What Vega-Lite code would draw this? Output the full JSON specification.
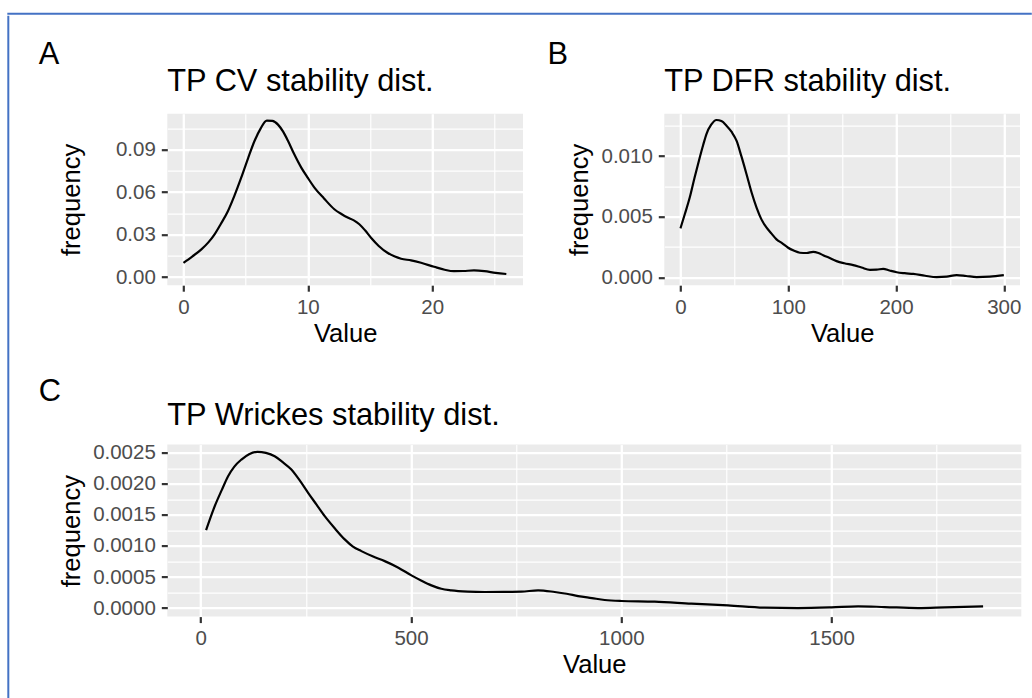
{
  "$schema": "https://vega.github.io/schema/vega-lite/v6.json",
  "background": "white",
  "padding": {"left": 7.3, "top": 12.7, "right": 0, "bottom": 0},
  "config": {
    "font": "Liberation Sans",
    "view": {"stroke": null},
    "axis": {
      "domain": false,
      "labelFontSize": 20.5,
      "labelColor": "#4D4D4D",
      "labelPadding": 6,
      "tickSize": 6,
      "tickWidth": 2.2,
      "tickColor": "#333333",
      "titleFontSize": 25.6,
      "titleFontWeight": "normal",
      "titleColor": "black",
      "gridColor": "white",
      "gridOpacity": 1,
      "labelFlush": false,
      "labelOverlap": false
    },
    "title": {"fontSize": 30.8, "fontWeight": "normal", "color": "black", "anchor": "start"}
  },
  "datasets": {
    "cv": [
      {"Value": 0, "frequency": 0.0101},
      {"Value": 0.7, "frequency": 0.0145},
      {"Value": 1.44, "frequency": 0.0196},
      {"Value": 2.0, "frequency": 0.0245},
      {"Value": 2.5, "frequency": 0.0302},
      {"Value": 3.0, "frequency": 0.0375},
      {"Value": 3.58, "frequency": 0.0467},
      {"Value": 4.1, "frequency": 0.0575},
      {"Value": 4.65, "frequency": 0.0703},
      {"Value": 5.2, "frequency": 0.084},
      {"Value": 5.72, "frequency": 0.0962},
      {"Value": 6.2, "frequency": 0.1048},
      {"Value": 6.7, "frequency": 0.1104},
      {"Value": 7.15, "frequency": 0.1102},
      {"Value": 7.6, "frequency": 0.1076},
      {"Value": 8.0, "frequency": 0.1028},
      {"Value": 8.4, "frequency": 0.0962},
      {"Value": 8.9, "frequency": 0.0868},
      {"Value": 9.46, "frequency": 0.0774},
      {"Value": 10.0, "frequency": 0.07},
      {"Value": 10.53, "frequency": 0.0632},
      {"Value": 11.3, "frequency": 0.0555},
      {"Value": 12.13, "frequency": 0.0479},
      {"Value": 12.7, "frequency": 0.0445},
      {"Value": 13.2, "frequency": 0.042},
      {"Value": 13.7, "frequency": 0.04},
      {"Value": 14.14, "frequency": 0.0373},
      {"Value": 14.6, "frequency": 0.033},
      {"Value": 15.08, "frequency": 0.0278},
      {"Value": 15.7, "frequency": 0.022},
      {"Value": 16.4, "frequency": 0.0172},
      {"Value": 17.0, "frequency": 0.0145},
      {"Value": 17.5, "frequency": 0.013},
      {"Value": 18.3, "frequency": 0.0118},
      {"Value": 19.1, "frequency": 0.0101},
      {"Value": 20.15, "frequency": 0.0073},
      {"Value": 21.0, "frequency": 0.0052},
      {"Value": 21.75, "frequency": 0.0042},
      {"Value": 22.5, "frequency": 0.0043},
      {"Value": 23.36, "frequency": 0.0047},
      {"Value": 24.2, "frequency": 0.0042},
      {"Value": 25.1, "frequency": 0.003},
      {"Value": 25.96, "frequency": 0.0022}
    ],
    "dfr": [
      {"Value": 0, "frequency": 0.00404},
      {"Value": 4, "frequency": 0.0052},
      {"Value": 8.6, "frequency": 0.00658},
      {"Value": 13, "frequency": 0.0082},
      {"Value": 17.9, "frequency": 0.00989},
      {"Value": 21, "frequency": 0.0109},
      {"Value": 24.1, "frequency": 0.01183},
      {"Value": 28.5, "frequency": 0.0126},
      {"Value": 33.4, "frequency": 0.01299},
      {"Value": 38, "frequency": 0.0129},
      {"Value": 42.7, "frequency": 0.01252},
      {"Value": 47.5, "frequency": 0.012},
      {"Value": 52, "frequency": 0.01128},
      {"Value": 56.5, "frequency": 0.01},
      {"Value": 61.3, "frequency": 0.00851},
      {"Value": 66, "frequency": 0.007},
      {"Value": 70.6, "frequency": 0.00575},
      {"Value": 75, "frequency": 0.0048},
      {"Value": 79.9, "frequency": 0.00409},
      {"Value": 84.5, "frequency": 0.0036},
      {"Value": 89.1, "frequency": 0.00313},
      {"Value": 94.5, "frequency": 0.0028},
      {"Value": 99.9, "frequency": 0.00243},
      {"Value": 105, "frequency": 0.0022},
      {"Value": 110.8, "frequency": 0.00202},
      {"Value": 117, "frequency": 0.002},
      {"Value": 123.1, "frequency": 0.0021},
      {"Value": 128, "frequency": 0.002},
      {"Value": 132.4, "frequency": 0.00182},
      {"Value": 138, "frequency": 0.0016},
      {"Value": 144.8, "frequency": 0.00133},
      {"Value": 152, "frequency": 0.00115},
      {"Value": 160.3, "frequency": 0.001},
      {"Value": 168, "frequency": 0.0008},
      {"Value": 175.8, "frequency": 0.00061},
      {"Value": 182, "frequency": 0.00062},
      {"Value": 188.1, "frequency": 0.00069},
      {"Value": 194, "frequency": 0.00055},
      {"Value": 200.6, "frequency": 0.00041},
      {"Value": 208, "frequency": 0.00033},
      {"Value": 216, "frequency": 0.00027},
      {"Value": 227, "frequency": 0.00012},
      {"Value": 237.7, "frequency": 0.00001},
      {"Value": 247, "frequency": 0.00005},
      {"Value": 256.3, "frequency": 0.00017},
      {"Value": 265, "frequency": 0.0001},
      {"Value": 274.8, "frequency": 0.00001},
      {"Value": 287, "frequency": 0.00005},
      {"Value": 300, "frequency": 0.00017}
    ],
    "wrickes": [
      {"Value": 12.8, "frequency": 0.001255},
      {"Value": 33.3, "frequency": 0.00164},
      {"Value": 50, "frequency": 0.0019},
      {"Value": 65.1, "frequency": 0.002124},
      {"Value": 80, "frequency": 0.00228},
      {"Value": 96.8, "frequency": 0.002393},
      {"Value": 115, "frequency": 0.00248},
      {"Value": 134.8, "frequency": 0.002517},
      {"Value": 155, "frequency": 0.0025},
      {"Value": 175.9, "frequency": 0.002446},
      {"Value": 195, "frequency": 0.00235},
      {"Value": 215.6, "frequency": 0.002232},
      {"Value": 235, "frequency": 0.00206},
      {"Value": 255.4, "frequency": 0.001857},
      {"Value": 275, "frequency": 0.00167},
      {"Value": 294.9, "frequency": 0.00148},
      {"Value": 318, "frequency": 0.00129},
      {"Value": 342.4, "frequency": 0.001106},
      {"Value": 362, "frequency": 0.00099},
      {"Value": 382, "frequency": 0.000917},
      {"Value": 410, "frequency": 0.00083},
      {"Value": 437.5, "frequency": 0.000756},
      {"Value": 470, "frequency": 0.00065},
      {"Value": 501, "frequency": 0.000526},
      {"Value": 525, "frequency": 0.00044},
      {"Value": 548.5, "frequency": 0.000365},
      {"Value": 572, "frequency": 0.00031},
      {"Value": 596, "frequency": 0.000285},
      {"Value": 635, "frequency": 0.000265},
      {"Value": 675.2, "frequency": 0.000258},
      {"Value": 720, "frequency": 0.00026},
      {"Value": 762.5, "frequency": 0.000264},
      {"Value": 802.2, "frequency": 0.000285},
      {"Value": 841.6, "frequency": 0.000258},
      {"Value": 870, "frequency": 0.00023},
      {"Value": 897.3, "frequency": 0.000193},
      {"Value": 930, "frequency": 0.00016},
      {"Value": 960.5, "frequency": 0.000129},
      {"Value": 1000.2, "frequency": 0.000113},
      {"Value": 1079.4, "frequency": 0.000103},
      {"Value": 1166.6, "frequency": 0.000071},
      {"Value": 1253.9, "frequency": 0.000043},
      {"Value": 1340.9, "frequency": 0.000006},
      {"Value": 1420.3, "frequency": 0.0},
      {"Value": 1499.5, "frequency": 0.000011},
      {"Value": 1563, "frequency": 0.000027},
      {"Value": 1626.4, "frequency": 0.000016},
      {"Value": 1705.7, "frequency": 0.0},
      {"Value": 1769, "frequency": 0.000011},
      {"Value": 1860.2, "frequency": 0.000027}
    ]
  },
  "spacing": 0,
  "vconcat": [
    {
      "data": {"values": []},
      "mark": "point",
      "width": 1022.5,
      "height": 0.001,
      "view": {"stroke": "#4472C4", "strokeWidth": 2}
    },
    {
      "spacing": 28,
      "hconcat": [
        {
          "data": {"values": []},
          "mark": "point",
          "width": 0.001,
          "height": 681,
          "view": {"stroke": "#4472C4", "strokeWidth": 2}
        },
        {
          "spacing": 21,
          "vconcat": [
            {"data": {"values": []}, "mark": "point", "width": 1, "height": 1},
            {
              "spacing": 27.9,
              "vconcat": [
                {
                  "spacing": 24,
                  "hconcat": [
                    {
                      "title": {"text": "A", "anchor": "start", "frame": "bounds", "dx": -20.5, "baseline": "alphabetic", "offset": -28.6, "fontSize": 30.8},
                      "vconcat": [
                        {
                          "data": {"name": "cv"},
                          "width": 355.7,
                          "height": 171.5,
                          "view": {"fill": "#EBEBEB", "stroke": null},
                          "title": {"text": "TP CV stability dist.", "frame": "group", "anchor": "start", "baseline": "alphabetic", "offset": -8.5},
                          "mark": {"type": "line", "color": "black", "strokeWidth": 2.2, "interpolate": "monotone"},
                          "encoding": {
                            "x": {
                              "field": "Value", "type": "quantitative",
                              "scale": {"domain": [-1.3, 27.3], "nice": false, "zero": false},
                              "axis": {
                                "values": [0, 5, 10, 15, 20, 25],
                                "format": "d",
                                "labelExpr": "indexof([0,10,20], datum.value) >= 0 ? datum.label : ''",
                                "gridWidth": {"condition": {"test": "indexof([0,10,20], datum.value) >= 0", "value": 2.3}, "value": 1.15},
                                "tickOpacity": {"condition": {"test": "indexof([0,10,20], datum.value) >= 0", "value": 1}, "value": 0},
                                "title": "Value",
                                "titleY": 56.4,
                                "titleBaseline": "alphabetic"
                              }
                            },
                            "y": {
                              "field": "frequency", "type": "quantitative",
                              "scale": {"domain": [-0.0057, 0.1153], "nice": false, "zero": false},
                              "axis": {
                                "values": [0, 0.015, 0.03, 0.045, 0.06, 0.075, 0.09, 0.105],
                                "format": ".2f",
                                "labelExpr": "indexof([0,0.03,0.06,0.09], datum.value) >= 0 ? datum.label : ''",
                                "gridWidth": {"condition": {"test": "indexof([0,0.03,0.06,0.09], datum.value) >= 0", "value": 2.3}, "value": 1.15},
                                "tickOpacity": {"condition": {"test": "indexof([0,0.03,0.06,0.09], datum.value) >= 0", "value": 1}, "value": 0},
                                "title": "frequency",
                                "titleX": -88.1,
                                "titleY": 85.75,
                                "titleBaseline": "alphabetic",
                                "titleAlign": "center"
                              }
                            }
                          }
                        }
                      ]
                    },
                    {
                      "title": {"text": "B", "anchor": "start", "frame": "bounds", "dx": -20.5, "baseline": "alphabetic", "offset": -28.6, "fontSize": 30.8},
                      "vconcat": [
                        {
                          "data": {"name": "dfr"},
                          "width": 355.7,
                          "height": 171.5,
                          "view": {"fill": "#EBEBEB", "stroke": null},
                          "title": {"text": "TP DFR stability dist.", "frame": "group", "anchor": "start", "baseline": "alphabetic", "offset": -8.5},
                          "mark": {"type": "line", "color": "black", "strokeWidth": 2.2, "interpolate": "monotone"},
                          "encoding": {
                            "x": {
                              "field": "Value", "type": "quantitative",
                              "scale": {"domain": [-15, 315], "nice": false, "zero": false},
                              "axis": {
                                "values": [0, 50, 100, 150, 200, 250, 300],
                                "format": "d",
                                "labelExpr": "indexof([0,100,200,300], datum.value) >= 0 ? datum.label : ''",
                                "gridWidth": {"condition": {"test": "indexof([0,100,200,300], datum.value) >= 0", "value": 2.3}, "value": 1.15},
                                "tickOpacity": {"condition": {"test": "indexof([0,100,200,300], datum.value) >= 0", "value": 1}, "value": 0},
                                "title": "Value",
                                "titleY": 56.4,
                                "titleBaseline": "alphabetic"
                              }
                            },
                            "y": {
                              "field": "frequency", "type": "quantitative",
                              "scale": {"domain": [-0.00066, 0.01351], "nice": false, "zero": false},
                              "axis": {
                                "values": [0, 0.0025, 0.005, 0.0075, 0.01, 0.0125],
                                "format": ".3f",
                                "labelExpr": "indexof([0,0.005,0.01], datum.value) >= 0 ? datum.label : ''",
                                "gridWidth": {"condition": {"test": "indexof([0,0.005,0.01], datum.value) >= 0", "value": 2.3}, "value": 1.15},
                                "tickOpacity": {"condition": {"test": "indexof([0,0.005,0.01], datum.value) >= 0", "value": 1}, "value": 0},
                                "title": "frequency",
                                "titleX": -76.4,
                                "titleY": 85.75,
                                "titleBaseline": "alphabetic",
                                "titleAlign": "center"
                              }
                            }
                          }
                        }
                      ]
                    }
                  ]
                },
                {
                  "title": {"text": "C", "anchor": "start", "frame": "bounds", "dx": -20.5, "baseline": "alphabetic", "offset": -32.6, "fontSize": 30.8},
                  "vconcat": [
                    {
                      "data": {"name": "wrickes"},
                      "width": 854,
                      "height": 172,
                      "view": {"fill": "#EBEBEB", "stroke": null},
                      "title": {"text": "TP Wrickes stability dist.", "frame": "group", "anchor": "start", "baseline": "alphabetic", "offset": -12.5},
                      "mark": {"type": "line", "color": "black", "strokeWidth": 2.2, "interpolate": "monotone"},
                      "encoding": {
                        "x": {
                          "field": "Value", "type": "quantitative",
                          "scale": {"domain": [-79.4, 1951], "nice": false, "zero": false},
                          "axis": {
                            "values": [0, 250, 500, 750, 1000, 1250, 1500, 1750],
                            "format": "d",
                            "labelExpr": "indexof([0,500,1000,1500], datum.value) >= 0 ? datum.label : ''",
                            "gridWidth": {"condition": {"test": "indexof([0,500,1000,1500], datum.value) >= 0", "value": 2.3}, "value": 1.15},
                            "tickOpacity": {"condition": {"test": "indexof([0,500,1000,1500], datum.value) >= 0", "value": 1}, "value": 0},
                            "title": "Value",
                            "titleY": 56,
                            "titleBaseline": "alphabetic"
                          }
                        },
                        "y": {
                          "field": "frequency", "type": "quantitative",
                          "scale": {"domain": [-0.000138, 0.002634], "nice": false, "zero": false},
                          "axis": {
                            "values": [0, 0.00025, 0.0005, 0.00075, 0.001, 0.00125, 0.0015, 0.00175, 0.002, 0.00225, 0.0025],
                            "format": ".4f",
                            "labelExpr": "indexof([0,0.0005,0.001,0.0015,0.002,0.0025], datum.value) >= 0 ? datum.label : ''",
                            "gridWidth": {"condition": {"test": "indexof([0,0.0005,0.001,0.0015,0.002,0.0025], datum.value) >= 0", "value": 2.3}, "value": 1.15},
                            "tickOpacity": {"condition": {"test": "indexof([0,0.0005,0.001,0.0015,0.002,0.0025], datum.value) >= 0", "value": 1}, "value": 0},
                            "title": "frequency",
                            "titleX": -88.1,
                            "titleY": 86,
                            "titleBaseline": "alphabetic",
                            "titleAlign": "center"
                          }
                        }
                      }
                    }
                  ]
                }
              ]
            }
          ]
        }
      ]
    }
  ]
}
